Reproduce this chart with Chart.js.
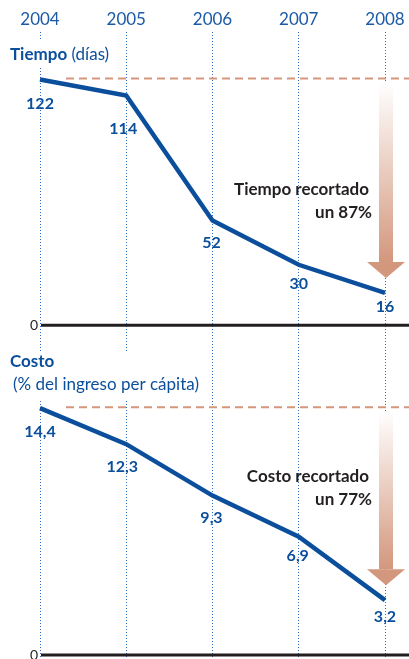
<!DOCTYPE html>
<html>
<head>
<meta charset="utf-8">
<script src="https://cdn.jsdelivr.net/npm/chart.js@4"></script>
<style>
  html, body { margin: 0; padding: 0; background: #fff; }
  #wrap { width: 409px; height: 659px; position: relative; }
</style>
</head>
<body>
<div id="wrap"><canvas id="chart"></canvas></div>
<script>
const years = ['2004', '2005', '2006', '2007', '2008'];
const tiempoDias = [122, 114, 52, 30, 16];
const costoPct = [14.4, 12.3, 9.3, 6.9, 3.2];
const tiempoTitle = ['Tiempo', ' (días)'];
const costoTitle = ['Costo', '(% del ingreso per cápita)'];
const tiempoNote = ['Tiempo recortado', 'un 87%'];
const costoNote = ['Costo recortado', 'un 77%'];

const BLUE = '#0b4f9c';
const YEAR_BLUE = '#1b5aa5';
const DARK = '#231f20';
const SALMON = '#d4967c';
const FONT = 'Lato';

// panel layout: zero lines and pixels per unit
const AREA_TOP = 32, AREA_BOTTOM = 659;
const zeroT = 325, pxT = 2.016;
const zeroC = 655, pxC = 17.15;

const labelNudge = {
  t: [[0, 24], [-3, 33], [-1, 22], [0, 19], [0, 14]],
  c: [[0, 24], [-4, 23], [-1, 22], [-1, 19], [0, 17]]
};

function fmt(v) {
  return String(v).replace('.', ',');
}

function drawArrow(ctx, x, top, tip) {
  const headH = 16, bodyW = 14, headW = 38;
  const grad = ctx.createLinearGradient(0, top, 0, tip - headH);
  grad.addColorStop(0, '#ffffff');
  grad.addColorStop(1, '#d3977d');
  ctx.fillStyle = grad;
  ctx.fillRect(x - bodyW / 2, top, bodyW, tip - headH - top);
  ctx.fillStyle = '#d3977d';
  ctx.beginPath();
  ctx.moveTo(x - headW / 2, tip - headH);
  ctx.lineTo(x + headW / 2, tip - headH);
  ctx.lineTo(x, tip);
  ctx.closePath();
  ctx.fill();
}

const infografia = {
  id: 'infografia',
  beforeDatasetsDraw(chart) {
    const ctx = chart.ctx;
    const x = chart.scales.x;
    const W = chart.width;
    ctx.save();

    // gaps in the dotted lines behind the titles
    ctx.fillStyle = '#fff';
    ctx.fillRect(4, 41, 112, 25);
    ctx.fillRect(4, 352, 196, 47);

    // titles
    ctx.textBaseline = 'middle';
    ctx.textAlign = 'left';
    ctx.fillStyle = BLUE;
    ctx.font = 'bold 17px ' + FONT;
    ctx.fillText(tiempoTitle[0], 10, 55);
    const w = ctx.measureText(tiempoTitle[0]).width;
    ctx.font = '17px ' + FONT;
    ctx.fillText(tiempoTitle[1], 10 + w, 55);
    ctx.font = 'bold 17px ' + FONT;
    ctx.fillText(costoTitle[0], 10, 362);
    ctx.font = '17px ' + FONT;
    ctx.fillText(costoTitle[1], 13, 385);

    [[chart.scales.yT, tiempoDias, tiempoNote, 190], [chart.scales.yC, costoPct, costoNote, 477]].forEach(([y, data, note, noteY]) => {
      // zero line
      const y0 = y.getPixelForValue(0);
      ctx.strokeStyle = DARK;
      ctx.lineWidth = 3;
      ctx.setLineDash([]);
      ctx.beginPath();
      ctx.moveTo(x.left + 1, y0);
      ctx.lineTo(W, y0);
      ctx.stroke();
      ctx.fillStyle = DARK;
      ctx.font = '14px ' + FONT;
      ctx.textAlign = 'right';
      ctx.fillText('0', 38, y0);

      // dashed reference at the first value
      const yRef = y.getPixelForValue(data[0]) - 1;
      ctx.strokeStyle = SALMON;
      ctx.lineWidth = 2;
      ctx.setLineDash([8, 5]);
      ctx.beginPath();
      ctx.moveTo(66, yRef);
      ctx.lineTo(W, yRef);
      ctx.stroke();
      ctx.setLineDash([]);

      // arrow
      const xa = x.getPixelForValue(data.length - 1) + 1;
      drawArrow(ctx, xa, yRef + 4, y.getPixelForValue(data[data.length - 1]) - 15);

      // note
      ctx.fillStyle = DARK;
      ctx.font = 'bold 17px ' + FONT;
      ctx.textAlign = 'right';
      ctx.fillText(note[0], 369, noteY);
      ctx.fillText(note[1], 372, noteY + 23);
    });
    ctx.restore();
  },
  afterDatasetsDraw(chart) {
    const ctx = chart.ctx;
    ctx.save();
    ctx.fillStyle = BLUE;
    ctx.font = 'bold 16px ' + FONT;
    ctx.textAlign = 'center';
    ctx.textBaseline = 'middle';
    [['t', 0, tiempoDias], ['c', 1, costoPct]].forEach(([key, idx, data]) => {
      chart.getDatasetMeta(idx).data.forEach((pt, i) => {
        const [dx, dy] = labelNudge[key][i];
        ctx.fillText(fmt(data[i]), pt.x + dx, pt.y + dy);
      });
    });
    ctx.restore();
  }
};

new Chart(document.getElementById('chart'), {
  type: 'line',
  data: {
    labels: years,
    datasets: [{
      label: 'Tiempo (días)',
      data: tiempoDias,
      yAxisID: 'yT',
      borderColor: BLUE,
      borderWidth: 4.5,
      pointRadius: 0,
      tension: 0,
      fill: false
    }, {
      label: 'Costo (% del ingreso per cápita)',
      data: costoPct,
      yAxisID: 'yC',
      borderColor: BLUE,
      borderWidth: 4.5,
      pointRadius: 0,
      tension: 0,
      fill: false
    }]
  },
  options: {
    responsive: true,
    maintainAspectRatio: false,
    animation: false,
    layout: { padding: { left: 40, right: 24, top: 6, bottom: 0 } },
    plugins: { legend: { display: false }, tooltip: { enabled: false } },
    scales: {
      x: {
        position: 'top',
        offset: false,
        grid: { color: '#2a6cc0', lineWidth: 1, drawTicks: false },
        border: { display: false, dash: [1, 2] },
        ticks: { color: YEAR_BLUE, font: { family: FONT, size: 17 }, padding: 3, maxRotation: 0 }
      },
      yT: {
        display: false,
        min: -(AREA_BOTTOM - zeroT) / pxT,
        max: (zeroT - AREA_TOP) / pxT
      },
      yC: {
        display: false,
        min: -(AREA_BOTTOM - zeroC) / pxC,
        max: (zeroC - AREA_TOP) / pxC
      }
    }
  },
  plugins: [infografia]
});
</script>
</body>
</html>
